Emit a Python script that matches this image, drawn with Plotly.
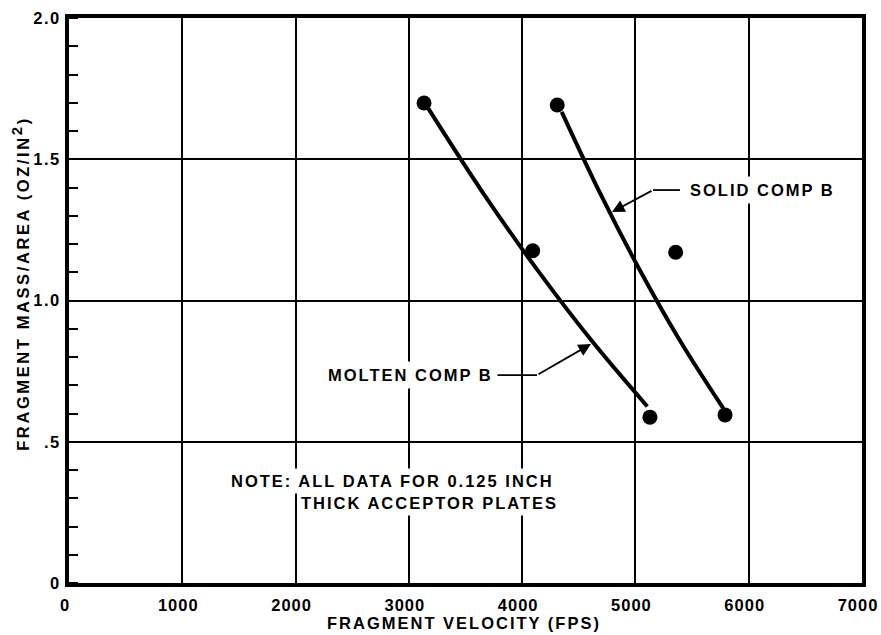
import plotly.graph_objects as go

# ---- data ----
molten_x = [3134, 4093, 5128]
molten_y = [1.699, 1.176, 0.587]
solid_x = [4310, 5791]
solid_y = [1.692, 0.595]
extra_x = [5355]
extra_y = [1.171]

molten_curve_x = [3171, 3651, 4131, 4611, 5105]
molten_curve_y = [1.680, 1.383, 1.110, 0.859, 0.625]
solid_curve_x = [4349, 4699, 5049, 5399, 5776]
solid_curve_y = [1.668, 1.371, 1.100, 0.854, 0.618]

x_ticks = [0, 1000, 2000, 3000, 4000, 5000, 6000, 7000]
x_tick_labels = ["0", "1000", "2000", "3000", "4000", "5000", "6000", "7000"]
y_ticks = [0, 0.5, 1.0, 1.5, 2.0]
y_tick_labels = ["0", ".5", "1.0", "1.5", "2.0"]

FONT = "Liberation Sans, Arial, sans-serif"


def sp(t, ls=2):
    return f'<span style="letter-spacing:{ls}px">{t}</span>'


fig = go.Figure()

for cx, cy in [(molten_curve_x, molten_curve_y), (solid_curve_x, solid_curve_y)]:
    fig.add_trace(go.Scatter(x=cx, y=cy, mode="lines",
                             line=dict(color="black", width=4, shape="spline", smoothing=1.0),
                             showlegend=False, hoverinfo="skip"))

for px, py in [(molten_x, molten_y), (solid_x, solid_y), (extra_x, extra_y)]:
    fig.add_trace(go.Scatter(x=px, y=py, mode="markers",
                             marker=dict(color="black", size=15),
                             showlegend=False))

tickfont = dict(family=FONT, size=16.5, color="black", weight="bold")
fig.update_xaxes(range=[0, 7000], tickvals=x_ticks, ticktext=[sp(t, 1) for t in x_tick_labels],
                 showgrid=True, gridcolor="black", gridwidth=1.8,
                 showline=True, linecolor="black", linewidth=4, mirror=True,
                 ticks="", zeroline=False, ticklabeloverflow="allow", ticklabelstandoff=4,
                 ticklabelshift=-4, automargin=False, tickfont=tickfont)
fig.update_yaxes(range=[0, 2.0], tickvals=y_ticks, ticktext=[sp(t, 1.5) for t in y_tick_labels],
                 showgrid=True, gridcolor="black", gridwidth=1.8,
                 showline=True, linecolor="black", linewidth=4, mirror=True,
                 ticks="", zeroline=False, ticklabelstandoff=1, ticklabeloverflow="allow",
                 automargin=False,
                 minor=dict(ticks="inside", ticklen=9, tickwidth=2, tickcolor="black",
                            dtick=0.1, showgrid=False),
                 tickfont=tickfont)

tfont = dict(family=FONT, size=16.5, color="black", weight="bold")

# axis titles
fig.add_annotation(text=sp("FRAGMENT VELOCITY (FPS)"), xref="paper", yref="paper",
                   x=0.498, y=-0.071, showarrow=False, font=tfont,
                   xanchor="center", yanchor="middle")
fig.add_annotation(text=sp('FRAGMENT MASS/AREA (OZ/IN<sup><span style="font-size:15px">2</span></sup>)', 2.6),
                   xref="paper", yref="paper",
                   x=-0.062, y=0.531, showarrow=False, font=tfont, textangle=-90,
                   xanchor="center", yanchor="middle")

# labels
fig.add_annotation(text=sp("SOLID COMP B"), x=5437, y=1.391, xanchor="left", yanchor="middle",
                   showarrow=False, font=tfont, bgcolor="white", borderpad=4)
fig.add_annotation(text=sp("MOLTEN COMP B"), x=2242, y=0.736, xanchor="left", yanchor="middle",
                   showarrow=False, font=tfont, bgcolor="white", borderpad=4)
fig.add_annotation(text=sp("NOTE: ALL DATA FOR 0.125 INCH"), x=1393, y=0.361,
                   xanchor="left", yanchor="middle",
                   showarrow=False, font=tfont, bgcolor="white", borderpad=3)
fig.add_annotation(text=sp("THICK ACCEPTOR PLATES"), x=2012, y=0.283,
                   xanchor="left", yanchor="middle",
                   showarrow=False, font=tfont, bgcolor="white", borderpad=3)

# leader lines
fig.add_shape(type="line", x0=5393, y0=1.391, x1=5155, y1=1.391,
              line=dict(color="black", width=1.8), layer="above")
fig.add_shape(type="line", x0=3760, y0=0.736, x1=4131, y1=0.736,
              line=dict(color="black", width=1.8), layer="above")
fig.add_annotation(x=4793, y=1.313, ax=5155, ay=1.391, axref="x", ayref="y",
                   text="", showarrow=True, arrowhead=2, arrowsize=1.4, arrowwidth=1.8,
                   arrowcolor="black")
fig.add_annotation(x=4608, y=0.846, ax=4131, ay=0.736, axref="x", ayref="y",
                   text="", showarrow=True, arrowhead=2, arrowsize=1.4, arrowwidth=1.8,
                   arrowcolor="black")

fig.update_layout(width=881, height=635, margin=dict(l=69, r=19, t=18, b=52, autoexpand=False),
                  plot_bgcolor="white", paper_bgcolor="white",
                  font=dict(family=FONT, color="black"))

fig.write_html("out.html")
